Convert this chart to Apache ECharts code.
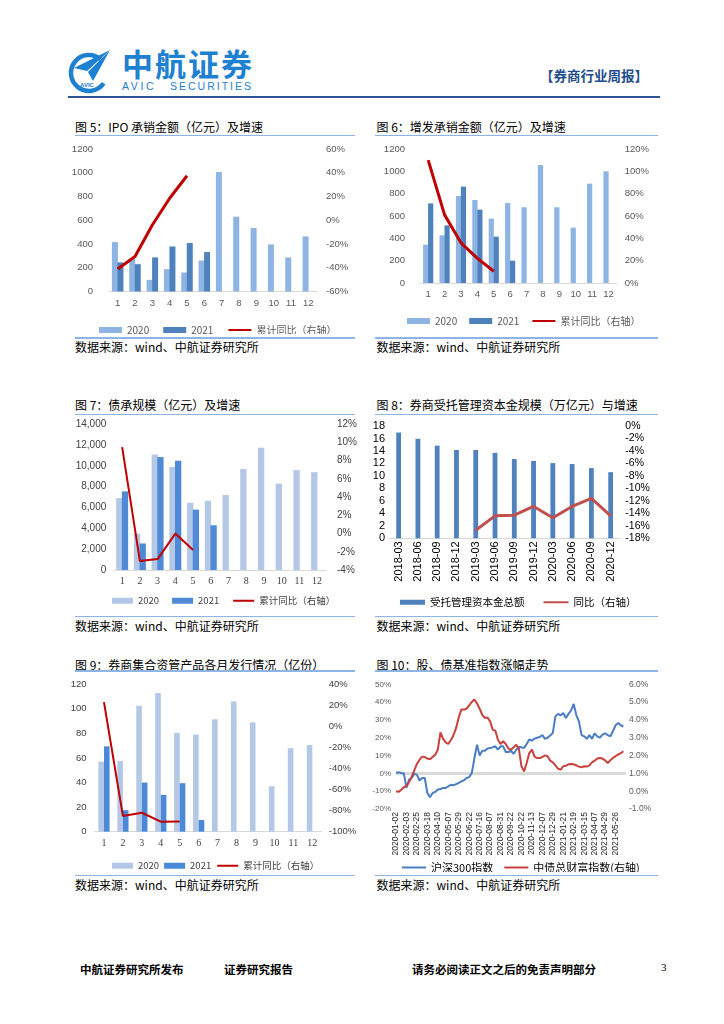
<!DOCTYPE html>
<html>
<head>
<meta charset="utf-8">
<script src="https://cdn.jsdelivr.net/npm/echarts@6/dist/echarts.min.js"></script>
<style>
  html,body{margin:0;padding:0;background:#fff;}
  body{width:724px;height:1024px;position:relative;overflow:hidden;font-family:"Noto Sans CJK SC","Noto Sans",sans-serif;}
  .abs{position:absolute;white-space:nowrap;}
  .title{font-size:12px;color:#000;height:16px;line-height:16px;}
  .src{font-size:12px;color:#000;height:16px;line-height:16px;}
  .ln{position:absolute;height:1.5px;background:#8DB4E2;}
  .chart{position:absolute;}
  .foot{font-size:11.5px;font-weight:bold;color:#000;height:16px;line-height:16px;}
</style>
</head>
<body>
<script>
// ---------------- DATA ----------------
const months = ['1','2','3','4','5','6','7','8','9','10','11','12'];

// 图5 IPO承销金额(亿元)及增速
const ipo2020 = [416, 275, 98, 188, 160, 261, 1006, 630, 534, 396, 287, 464];
const ipo2021 = [245, 230, 287, 379, 408, 332];
const ipoYoY  = [-41, -30.5, -4, 18.5, 37.5];

// 图6 增发承销金额(亿元)及增速
const seo2020 = [343, 427, 779, 743, 576, 716, 678, 1057, 678, 496, 890, 1000];
const seo2021 = [713, 516, 863, 657, 415, 200];
const seoYoY  = [110, 61, 36, 22, 10.5];

// 图7 债承规模(亿元)及增速
const bond2020 = [6900, 3500, 11100, 9900, 6450, 6650, 7200, 9700, 11750, 8300, 9600, 9400];
const bond2021 = [7550, 2550, 10850, 10500, 5800, 4300];
const bondYoY  = [9.5, -3.0, -2.8, 0.0, -1.8];

// 图8 券商受托管理资本金规模(万亿元)与增速
const trustDates  = ['2018-03','2018-06','2018-09','2018-12','2019-03','2019-06','2019-09','2019-12','2020-03','2020-06','2020-09','2020-12'];
const trustAssets = [16.95, 15.95, 14.85, 14.15, 14.15, 13.7, 12.7, 12.4, 12.05, 11.9, 11.25, 10.6];
const trustYoY    = [null, null, null, null, -16.7, -14.4, -14.3, -12.9, -14.7, -12.9, -11.6, -14.4];

// 图9 券商集合资管产品各月发行情况(亿份)
const cam2020 = [57, 57.5, 102.5, 113, 80.5, 79, 91.5, 106, 89, 37, 68, 70.5];
const cam2021 = [69.5, 17.5, 40, 30, 39.5, 9.5];
const camYoY  = [23, -85, -82, -90.5, -90.3];

// 图10 股、债基准指数涨幅走势 (每4个交易日读取一个点)
const idxDates = ['2020-01-02','2020-02-03','2020-02-25','2020-03-18','2020-04-10','2020-05-07','2020-05-29','2020-06-22','2020-07-16','2020-08-07','2020-08-31','2020-09-22','2020-10-22','2020-11-13','2020-12-07','2020-12-29','2021-01-21','2021-02-19','2021-03-15','2021-04-07','2021-04-29','2021-05-26'];
const hs300 = [0.2, 0.6, 0.2, -0.1, -8, -3.5, -2.6, -0.3, -0.7, -4, -2.6, -2.6, -11, -13.4, -11, -10.4, -9.1, -8.8, -8.2, -8.2, -7.3, -6.4, -6.7, -6, -5.4, -4.5, -3.9, -2.6, -2.1, 0.2, 8.6, 16.1, 10, 12.7, 12.7, 13.9, 14.3, 14.6, 15.2, 13.3, 15.2, 15.2, 12, 12, 12.7, 10.9, 13.3, 14.8, 14.6, 14.3, 16.5, 19, 18.4, 19.5, 20, 20.4, 21.5, 19.4, 20, 21.3, 22.7, 32, 33.4, 32.6, 33.9, 31.1, 33.4, 35.3, 39.0, 32.6, 29.2, 21.5, 20.8, 19.4, 21.5, 19.4, 22.5, 20.8, 20, 21.8, 22.5, 21.5, 20.8, 23.6, 27, 28.3, 27, 26.3];
const cbond = [0.0, -0.04, 0.08, 0.22, 0.29, 0.51, 0.80, 1.17, 1.53, 1.77, 1.94, 1.92, 1.83, 1.79, 1.92, 2.05, 2.33, 3.3, 2.95, 2.74, 2.65, 2.87, 3.14, 3.55, 4.14, 4.58, 4.58, 4.63, 4.82, 5.01, 5.15, 4.93, 4.63, 4.29, 4.11, 4.14, 3.92, 3.45, 3.40, 2.89, 2.65, 2.80, 2.65, 2.39, 2.33, 2.46, 2.61, 2.39, 1.40, 1.11, 1.58, 2.14, 2.33, 1.94, 1.86, 1.86, 1.92, 2.01, 1.96, 1.71, 1.62, 1.45, 1.26, 1.21, 1.40, 1.43, 1.51, 1.53, 1.51, 1.45, 1.38, 1.34, 1.40, 1.38, 1.45, 1.62, 1.71, 1.84, 1.86, 1.83, 1.73, 1.58, 1.73, 1.86, 1.97, 2.05, 2.13, 2.24];
</script>

<!-- Header -->
<svg class="abs" style="left:66px;top:46px" width="46" height="50" viewBox="0 0 46 50">
  <path d="M34.6,13.2 A18,18 0 1,0 37.7,37.3" fill="none" stroke="#1D80D1" stroke-width="4.5"/>
  <polygon points="44,4 8,22 21,25" fill="#1D80D1"/>
  <polygon points="44,4 22,26 27,35" fill="#1D80D1"/>
  <text x="14" y="41" font-size="6" font-weight="bold" fill="#1D80D1" font-family="Liberation Sans">AVIC</text>
</svg>
<div class="abs" style="left:122px;top:47px;font-size:31px;line-height:31px;font-weight:bold;color:#1D80D1;letter-spacing:2px;">中航证券</div>
<div class="abs" style="left:122px;top:80px;font-size:10.5px;line-height:12px;color:#1D80D1;letter-spacing:2.6px;font-family:'Liberation Sans';">AVIC</div>
<div class="abs" style="left:170px;top:80px;font-size:10.5px;line-height:12px;color:#1D80D1;letter-spacing:2px;font-family:'Liberation Sans';">SECURITIES</div>
<div class="abs" style="left:540px;top:66px;font-size:13.5px;line-height:18px;font-weight:bold;color:#1F4E8C;">【券商行业周报】</div>
<div class="abs" style="left:68px;top:96px;width:592px;height:1.5px;background:#2F5496;"></div>

<!-- Row 1 -->
<div class="abs title" style="left:75px;top:118.5px;">图 5：IPO 承销金额（亿元）及增速</div>
<div class="abs title" style="left:376.5px;top:118.5px;">图 6：增发承销金额（亿元）及增速</div>
<div class="ln" style="left:75px;top:134.5px;width:280px;"></div>
<div class="ln" style="left:375px;top:134.5px;width:283px;"></div>
<div id="c5" class="chart" style="left:60px;top:138px;width:300px;height:196px;"></div>
<div id="c6" class="chart" style="left:360px;top:138px;width:310px;height:196px;"></div>
<div class="ln" style="left:75px;top:337px;width:280px;"></div>
<div class="ln" style="left:375px;top:337px;width:283px;"></div>
<div class="abs src" style="left:75px;top:339px;">数据来源：wind、中航证券研究所</div>
<div class="abs src" style="left:376.5px;top:339px;">数据来源：wind、中航证券研究所</div>

<!-- Row 2 -->
<div class="abs title" style="left:75px;top:396.5px;">图 7：债承规模（亿元）及增速</div>
<div class="abs title" style="left:376.5px;top:396.5px;">图 8：券商受托管理资本金规模（万亿元）与增速</div>
<div class="ln" style="left:75px;top:413.5px;width:280px;"></div>
<div class="ln" style="left:375px;top:413.5px;width:283px;"></div>
<div id="c7" class="chart" style="left:60px;top:416px;width:300px;height:198px;"></div>
<div id="c8" class="chart" style="left:360px;top:416px;width:310px;height:198px;"></div>
<div class="ln" style="left:75px;top:615.5px;width:280px;"></div>
<div class="ln" style="left:375px;top:615.5px;width:283px;"></div>
<div class="abs src" style="left:75px;top:618px;">数据来源：wind、中航证券研究所</div>
<div class="abs src" style="left:376.5px;top:618px;">数据来源：wind、中航证券研究所</div>

<!-- Row 3 -->
<div class="abs title" style="left:75px;top:656.5px;">图 9：券商集合资管产品各月发行情况（亿份）</div>
<div class="abs title" style="left:376.5px;top:656.5px;">图 10：股、债基准指数涨幅走势</div>
<div class="ln" style="left:75px;top:670px;width:280px;"></div>
<div class="ln" style="left:375px;top:670px;width:283px;"></div>
<div id="c9" class="chart" style="left:60px;top:672px;width:300px;height:200px;"></div>
<div id="c10" class="chart" style="left:360px;top:672px;width:310px;height:200px;"></div>
<div class="ln" style="left:75px;top:874.5px;width:280px;"></div>
<div class="ln" style="left:375px;top:874.5px;width:283px;"></div>
<div class="abs src" style="left:75px;top:877px;">数据来源：wind、中航证券研究所</div>
<div class="abs src" style="left:376.5px;top:877px;">数据来源：wind、中航证券研究所</div>

<!-- Footer -->
<div class="abs foot" style="left:80px;top:961px;">中航证券研究所发布</div>
<div class="abs foot" style="left:224px;top:961px;">证券研究报告</div>
<div class="abs foot" style="left:412px;top:961px;">请务必阅读正文之后的免责声明部分</div>
<div class="abs" style="left:661px;top:959px;font-size:11px;line-height:16px;font-family:'Liberation Serif';color:#000;">3</div>

<script>
const SANS = 'Liberation Sans';
const SERIF = 'Liberation Serif';
const CJK = 'Noto Sans CJK SC';
const noDot = {color: 'rgba(0,0,0,0)', borderColor: 'rgba(0,0,0,0)', borderWidth: 0};
const plain = v => String(v);

function monthChart(id, p) {
  const chart = echarts.init(document.getElementById(id), null, {renderer: 'canvas'});
  const lab = (size, color, family, margin, extra) => Object.assign({fontSize: size, color: color, fontFamily: family, margin: margin}, extra || {});
  chart.setOption({
    animation: false,
    grid: p.grid,
    legend: {
      left: p.legend.left, top: p.legend.top,
      itemWidth: p.legend.iw, itemHeight: 6, itemGap: p.legend.gap,
      textStyle: {fontSize: p.legend.fs, color: p.legend.color, fontFamily: CJK},
      data: [{name: '2020', icon: 'rect'}, {name: '2021', icon: 'rect'}, {name: '累计同比（右轴）', itemStyle: noDot}]
    },
    xAxis: {
      type: 'category', data: months,
      axisLine: {show: true, lineStyle: {color: '#D9D9D9', width: 1}},
      axisTick: {show: false},
      axisLabel: lab(p.xFs, p.labColor, p.xFamily, p.xMargin)
    },
    yAxis: [
      {type: 'value', min: p.l.min, max: p.l.max, interval: p.l.interval,
       axisLine: {show: false}, axisTick: {show: false}, splitLine: {show: false},
       axisLabel: lab(p.yFs, p.labColor, SANS, p.l.margin, {formatter: p.l.fmt || plain})},
      {type: 'value', position: 'right', min: p.r.min, max: p.r.max, interval: p.r.interval,
       axisLine: {show: false}, axisTick: {show: false}, splitLine: {show: false},
       axisLabel: lab(p.yFs, p.labColor, SANS, p.r.margin, {formatter: '{value}%'})}
    ],
    series: [
      {name: '2020', type: 'bar', data: p.a, barWidth: p.bw, barGap: p.gap, itemStyle: {color: p.c1}},
      {name: '2021', type: 'bar', data: p.b, barWidth: p.bw, barGap: p.gap, itemStyle: {color: p.c2}},
      {name: '累计同比（右轴）', type: 'line', yAxisIndex: 1, data: p.y, symbol: 'none',
       lineStyle: {color: p.lc, width: p.lw}, itemStyle: {color: p.lc}}
    ]
  });
}

const thousands = v => String(v).replace(/\B(?=(\d{3})+(?!\d))/g, ',');

monthChart('c5', {
  grid: {left: 49, top: 11, width: 208, height: 142.5},
  legend: {left: 34, top: 182, iw: 23, gap: 14, fs: 10, color: '#595959'},
  xFs: 9.5, yFs: 9.5, labColor: '#595959', xFamily: SANS, xMargin: 7,
  l: {min: 0, max: 1200, interval: 200, margin: 16},
  r: {min: -60, max: 60, interval: 20, margin: 9},
  a: ipo2020, b: ipo2021, y: ipoYoY,
  bw: 6, gap: '-8%', c1: '#8DB4E2', c2: '#4F81BD', lc: '#C00000', lw: 3
});

monthChart('c6', {
  grid: {left: 60, top: 11, width: 196.7, height: 134},
  legend: {left: 42, top: 173, iw: 23, gap: 12, fs: 10, color: '#595959'},
  xFs: 9.5, yFs: 9.5, labColor: '#595959', xFamily: SANS, xMargin: 6,
  l: {min: 0, max: 1200, interval: 200, margin: 15},
  r: {min: 0, max: 120, interval: 20, margin: 8},
  a: seo2020, b: seo2021, y: seoYoY,
  bw: 5.2, gap: '-5%', c1: '#8DB4E2', c2: '#4F81BD', lc: '#C00000', lw: 3
});

monthChart('c7', {
  grid: {left: 53.3, top: 8.3, width: 213.4, height: 145.7},
  legend: {left: 47, top: 175, iw: 21, gap: 13, fs: 9.5, color: '#404040'},
  xFs: 10, yFs: 10, labColor: '#404040', xFamily: SERIF, xMargin: 6,
  l: {min: 0, max: 14000, interval: 2000, margin: 7, fmt: thousands},
  r: {min: -4, max: 12, interval: 2, margin: 11},
  a: bond2020, b: bond2021, y: bondYoY,
  bw: 6.3, gap: '-10%', c1: '#B4C7E7', c2: '#4E8AD6', lc: '#C00000', lw: 2
});

monthChart('c9', {
  grid: {left: 34.5, top: 12.3, width: 227.3, height: 147.4},
  legend: {left: 47, top: 184, iw: 21, gap: 5, fs: 9.5, color: '#404040'},
  xFs: 10, yFs: 9.5, labColor: '#404040', xFamily: SERIF, xMargin: 7,
  l: {min: 0, max: 120, interval: 20, margin: 8},
  r: {min: -100, max: 40, interval: 20, margin: 7},
  a: cam2020, b: cam2021, y: camYoY,
  bw: 5.6, gap: '0%', c1: '#B4C7E7', c2: '#4A88D8', lc: '#C00000', lw: 2
});

// 图8
(function () {
  const chart = echarts.init(document.getElementById('c8'), null, {renderer: 'canvas'});
  chart.setOption({
    animation: false,
    grid: {left: 29, top: 10, width: 231.3, height: 112.3},
    legend: {
      left: 35, top: 176, itemWidth: 25, itemHeight: 5, itemGap: 18,
      textStyle: {fontSize: 10.5, color: '#000', fontFamily: CJK},
      data: [{name: '受托管理资本金总额', icon: 'rect'}, {name: '同比（右轴）', itemStyle: noDot}]
    },
    xAxis: {
      type: 'category', data: trustDates,
      axisLine: {show: true, lineStyle: {color: '#D9D9D9'}},
      axisTick: {show: false},
      axisLabel: {rotate: 90, fontSize: 11, color: '#000', fontFamily: SANS, margin: 3}
    },
    yAxis: [
      {type: 'value', min: 0, max: 18, interval: 2, axisLine: {show: false}, axisTick: {show: false}, splitLine: {show: false},
       axisLabel: {fontSize: 11, color: '#000', fontFamily: SANS, margin: 4}},
      {type: 'value', position: 'right', min: -18, max: 0, interval: 2, axisLine: {show: false}, axisTick: {show: false}, splitLine: {show: false},
       axisLabel: {fontSize: 10.5, color: '#000', fontFamily: SANS, margin: 5, formatter: '{value}%'}}
    ],
    series: [
      {name: '受托管理资本金总额', type: 'bar', data: trustAssets, barWidth: 4.8, itemStyle: {color: '#4F81BD'}},
      {name: '同比（右轴）', type: 'line', yAxisIndex: 1, data: trustYoY, symbol: 'none',
       lineStyle: {color: '#C0504D', width: 3}, itemStyle: {color: '#C0504D'}}
    ]
  });
})();

// 图10
(function () {
  const chart = echarts.init(document.getElementById('c10'), null, {renderer: 'canvas'});
  const T = 'rgba(0,0,0,0)';
  const gridColors = [T, T, '#D9D9D9', T, T, T, T, T];
  chart.setOption({
    animation: false,
    grid: {left: 36, top: 12.3, width: 230, height: 124.7},
    legend: {
      left: 36, top: 185, itemWidth: 24, itemHeight: 6, itemGap: 10,
      textStyle: {fontSize: 11, color: '#000', fontFamily: CJK},
      data: [{name: '沪深300指数', itemStyle: noDot}, {name: '中债总财富指数(右轴)', itemStyle: noDot}]
    },
    xAxis: {
      type: 'value', min: 0, max: 88, interval: 4,
      axisLine: {show: false}, axisTick: {show: false}, splitLine: {show: false},
      axisLabel: {rotate: 90, fontSize: 8.5, color: '#262626', fontFamily: SANS, margin: 3,
        formatter: v => (v % 4 === 0 && idxDates[v / 4]) ? idxDates[v / 4] : ''}
    },
    yAxis: [
      {type: 'value', min: -20, max: 50, interval: 10, axisLine: {show: false}, axisTick: {show: false},
       splitLine: {show: true, lineStyle: {color: gridColors, width: 3}},
       axisLabel: {fontSize: 8, color: '#595959', fontFamily: SANS, margin: 5, formatter: '{value}%'}},
      {type: 'value', position: 'right', min: -1, max: 6, interval: 1, axisLine: {show: false}, axisTick: {show: false}, splitLine: {show: false},
       axisLabel: {fontSize: 8.5, color: '#595959', fontFamily: SANS, margin: 3, formatter: v => v.toFixed(1) + '%'}}
    ],
    series: [
      {name: '沪深300指数', type: 'line', data: hs300.map((v, i) => [i, v]), symbol: 'none',
       lineStyle: {color: '#4A7DC4', width: 2}, itemStyle: {color: '#4A7DC4'}},
      {name: '中债总财富指数(右轴)', type: 'line', yAxisIndex: 1, data: cbond.map((v, i) => [i, v]), symbol: 'none',
       lineStyle: {color: '#C9413D', width: 2}, itemStyle: {color: '#C9413D'}}
    ]
  });
})();
</script>
</body>
</html>
